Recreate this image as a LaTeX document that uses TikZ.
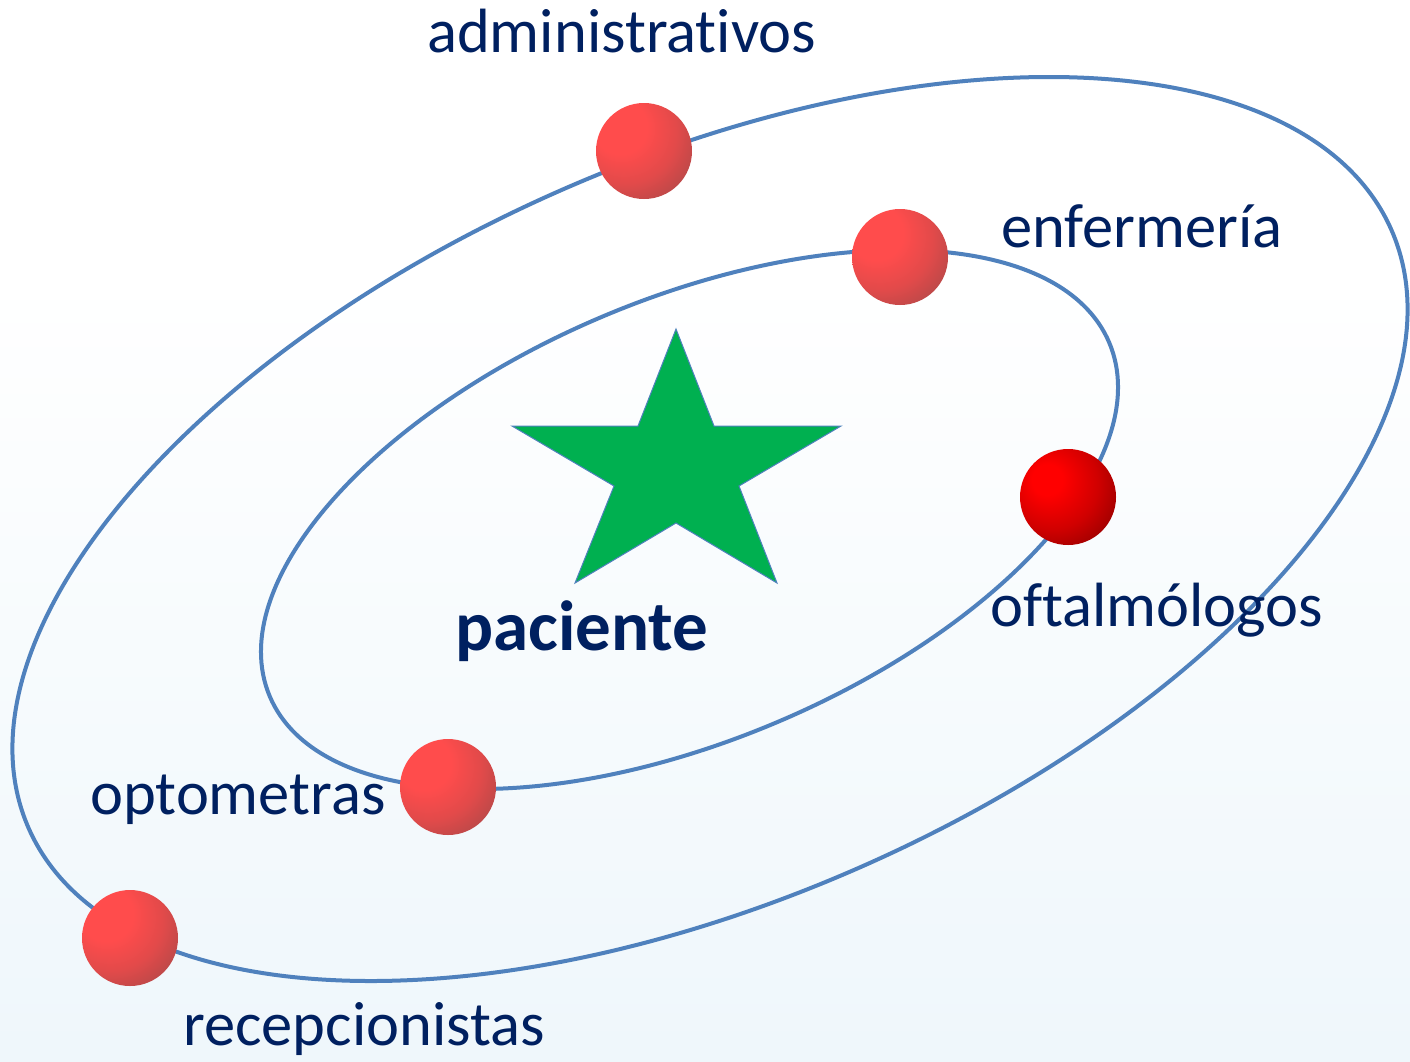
\documentclass[tikz,border=0pt]{standalone}
\usepackage{fontspec}
\setmainfont{Carlito}[Ligatures={NoCommon}, RawFeature={-liga;-clig;-calt;-dlig}]
\definecolor{orbit}{RGB}{79,129,189}
\definecolor{txt}{RGB}{0,32,96}
\definecolor{stargreen}{RGB}{0,176,80}
\definecolor{bgblue}{RGB}{229,242,249}
\definecolor{sA}{RGB}{255,76,76}
\definecolor{sB}{RGB}{226,74,74}
\definecolor{sC}{RGB}{178,72,72}
\definecolor{sD}{RGB}{125,72,72}
\definecolor{sE}{RGB}{77,77,77}
\definecolor{dA}{RGB}{255,0,0}
\definecolor{dB}{RGB}{208,0,0}
\definecolor{dC}{RGB}{140,0,0}
\definecolor{dD}{RGB}{70,0,0}
\definecolor{dE}{RGB}{0,0,0}
\pgfdeclareradialshading{sphred}{\pgfpoint{-15bp}{15bp}}{color(0bp)=(sA); color(14bp)=(sA); color(27bp)=(sB); color(40bp)=(sC); color(51bp)=(sD); color(59bp)=(sE); color(80bp)=(sE)}
\pgfdeclareradialshading{sphdark}{\pgfpoint{-12bp}{10bp}}{color(0bp)=(dA); color(8bp)=(dA); color(24bp)=(dB); color(40bp)=(dC); color(52bp)=(dD); color(61bp)=(dE); color(80bp)=(dE)}
\pgfdeclareverticalshading{bgshade}{100bp}{color(0bp)=(bgblue); color(36bp)=(white!55!bgblue); color(62bp)=(white); color(100bp)=(white)}
\tikzset{
  orbitline/.style={draw=orbit, line width=4pt},
  ball/.style={circle, minimum size=96pt, inner sep=0pt, shading=sphred},
  darkball/.style={circle, minimum size=96pt, inner sep=0pt, shading=sphdark},
  lbl/.style={text=txt, inner sep=0pt, anchor=base west, font=\fontsize{62.5}{70}\selectfont},
  boldlbl/.style={text=txt, inner sep=0pt, anchor=base west, font=\fontsize{71}{80}\selectfont\bfseries},
  starshape/.style={fill=stargreen, draw=orbit, line width=1pt, line join=miter}
}
\begin{document}
\begin{tikzpicture}[x=1pt, y=-1pt]
\useasboundingbox (0,0) rectangle (1410,1061);
\shade[shading=bgshade] (0,0) rectangle (1410,1061);
% orbits
\draw[orbitline, rotate around={23.7:(710,529)}] (710,529) ellipse [x radius=744.2, y radius=370.1];
\draw[orbitline, rotate around={22.83:(689.5,519.5)}] (689.5,519.5) ellipse [x radius=455.5, y radius=220.8];
% star
\draw[starshape] (676,329) -- (714,426) -- (841,426) -- (739,486) -- (777,583) -- (676,523) -- (575,583) -- (614,486) -- (512,426) -- (638,426) -- cycle;
% spheres
\node[ball] (adm) at (644,151) {};
\node[ball] (enf) at (900,257) {};
\node[darkball] (oft) at (1068,497) {};
\node[ball] (opt) at (448,787) {};
\node[ball] (rec) at (130,938) {};
% labels
\node[lbl] (tadm) at (427,52) {administrativos};
\node[lbl] (tenf) at (1001,247) {enfermería};
\node[lbl] (toft) at (990,626) {oftalmólogos};
\node[boldlbl] (tpac) at (455,650) {paciente};
\node[lbl] (topt) at (90,814) {optometras};
\node[lbl] (trec) at (183,1045) {recepcionistas};
\end{tikzpicture}
\end{document}
